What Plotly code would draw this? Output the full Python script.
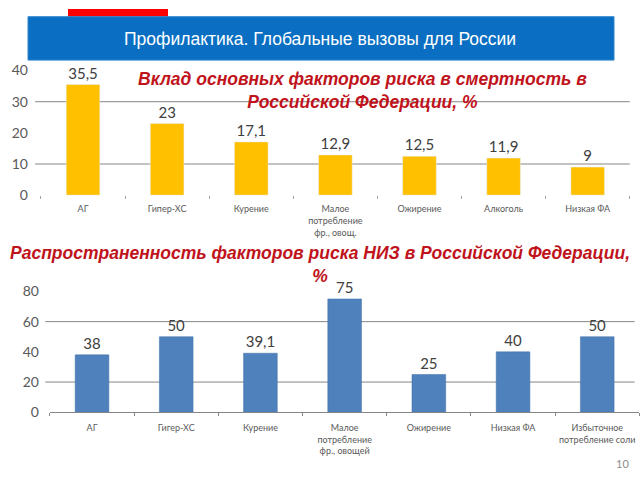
import plotly.graph_objects as go

# ---- data ----
title_banner = "Профилактика. Глобальные вызовы для России"
cats1 = ["АГ", "Гипер-ХС", "Курение", "Малое<br>потребление<br>фр., овощ.", "Ожирение", "Алкоголь", "Низкая ФА"]
vals1 = [35.5, 23, 17.1, 12.9, 12.5, 11.9, 9]
ticks1 = [0, 10, 20, 30, 40]
grid1 = [10, 30]
title1 = "Вклад основных факторов риска в смертность в<br>Российской Федерации, %"

cats2 = ["АГ", "Гигер-ХС", "Курение", "Малое<br>потребление<br>фр., овощей", "Ожирение", "Низкая ФА", "Избыточное<br>потребление соли"]
vals2 = [38, 50, 39.1, 75, 25, 40, 50]
ticks2 = [0, 20, 40, 60, 80]
grid2 = [20, 60]
title2 = "Распространенность факторов риска НИЗ в Российской Федерации,<br>%"
page_no = "10"

LBL = "Lato, Liberation Sans, sans-serif"
fig = go.Figure()
fig.add_trace(go.Bar(x=cats1, y=vals1, marker_color="#FFC000", width=0.4,
                     texttemplate="%{y}", textposition="outside", cliponaxis=False,
                     textfont=dict(size=15, color="#404040", family=LBL),
                     xaxis="x", yaxis="y"))
fig.add_trace(go.Bar(x=cats2, y=vals2, marker_color="#4F81BD", width=0.4,
                     marker_line=dict(color="#3F6FA8", width=0.5),
                     texttemplate="%{y}", textposition="outside", cliponaxis=False,
                     textfont=dict(size=15, color="#404040", family=LBL),
                     xaxis="x2", yaxis="y2"))

axis_font = dict(size=9, color="#595959", family=LBL)
yfont = dict(size=14, color="#595959", family=LBL)
fig.update_layout(
    width=640, height=480, autosize=False,
    margin=dict(l=0, r=0, t=0, b=0),
    paper_bgcolor="white", plot_bgcolor="rgba(0,0,0,0)",
    showlegend=False, separators=", ",
    xaxis=dict(domain=[0.064, 0.984], anchor="y", showgrid=False, showline=False,
               ticks="outside", tickson="boundaries", ticklen=3, tickcolor="#A0A0A0",
               tickfont=axis_font, zeroline=False, tickangle=0, ticklabelstandoff=7),
    yaxis=dict(domain=[0.598, 0.867], anchor="x", range=[0, 40], tickvals=ticks1,
               showgrid=False, zeroline=False, tickfont=yfont, ticks="", ticklabelstandoff=12),
    xaxis2=dict(domain=[0.078, 0.999], anchor="y2", showgrid=False, showline=True,
                linecolor="#868686", linewidth=1,
                ticks="outside", tickson="boundaries", ticklen=3, tickcolor="#868686",
                tickfont=axis_font, zeroline=False, tickangle=0, ticklabelstandoff=7),
    yaxis2=dict(domain=[0.129, 0.390], anchor="x2", range=[0, 80], tickvals=ticks2,
                showgrid=False, zeroline=False, tickfont=yfont, ticks="", ticklabelstandoff=10),
)

# gridlines
for g in grid1:
    fig.add_shape(type="line", xref="x domain", yref="y", x0=-0.01, x1=1.0, y0=g, y1=g,
                  line=dict(color="#868686", width=1), layer="below")
for g in grid2:
    fig.add_shape(type="line", xref="x2 domain", yref="y2", x0=-0.008, x1=0.992, y0=g, y1=g,
                  line=dict(color="#868686", width=1), layer="below")

# banner
fig.add_shape(type="rect", xref="paper", yref="paper", x0=68/640, x1=168/640, y0=1-8/480, y1=1.0,
              fillcolor="#FF0000", line_width=0, layer="below")
fig.add_shape(type="rect", xref="paper", yref="paper", x0=28/640, x1=614/640, y0=1-53/480, y1=1-8/480,
              fillcolor="#0A6FC2", line=dict(color="#2E86D0", width=1), layer="below")
fig.add_annotation(text=title_banner, xref="paper", yref="paper", x=320/640, y=1-31/480,
                   showarrow=False, font=dict(size=17.5, color="white", family="Liberation Sans, Arial"),
                   xanchor="center", yanchor="middle")

red = "#C0131B"
tfont = dict(size=17.5, color=red, family="Liberation Sans, Arial")
fig.add_annotation(text="<b><i>" + title1 + "</i></b>", xref="paper", yref="paper",
                   x=362/640, y=1-85/480, showarrow=False, font=tfont,
                   xanchor="center", yanchor="middle", align="center")
fig.add_annotation(text="<b><i>" + title2 + "</i></b>", xref="paper", yref="paper",
                   x=320/640, y=1-265/480, showarrow=False, font=tfont,
                   xanchor="center", yanchor="middle", align="center")
fig.add_annotation(text=page_no, xref="paper", yref="paper", x=622/640, y=1-471/480,
                   showarrow=False, font=dict(size=11, color="#8C8C8C", family=LBL),
                   xanchor="center", yanchor="middle")

page_css = ("var st=document.createElement('style');"
            "st.textContent='html,body{margin:0!important;padding:0!important;overflow:hidden!important;"
            "width:640px;height:480px;} .plotly-graph-div{position:fixed!important;left:0!important;top:0!important;}';"
            "document.head.appendChild(st);window.scrollTo(0,0);")
fig.write_html("out.html", config={"displayModeBar": False}, post_script=page_css)
